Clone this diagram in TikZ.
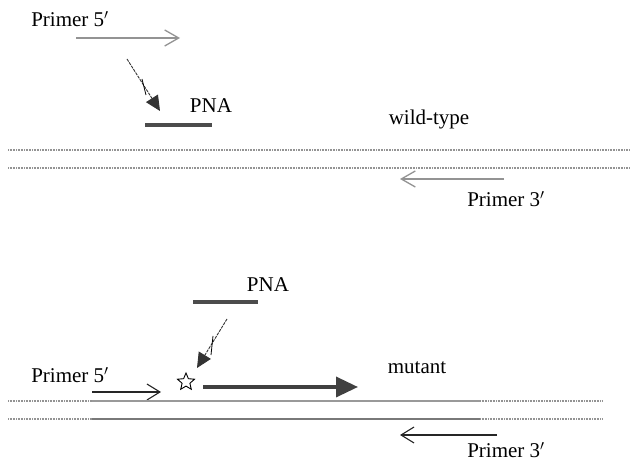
\documentclass[tikz,border=0pt]{standalone}
\usepackage{fontspec}
\setmainfont{Liberation Serif}
\usetikzlibrary{arrows.meta,shapes.geometric}
\tikzset{
  lbl/.style={font=\fontsize{21}{23}\selectfont, inner sep=0pt},
  primerarrow/.style={line width=2.3pt, gray!85, -{Straight Barb[length=14pt,width=16pt,line width=1.3pt]}},
  primerblack/.style={line width=1.3pt, black!85, -{Straight Barb[length=13pt,width=16pt,line width=1.1pt]}},
  pnabar/.style={line width=3.5pt, black!70},
  bindarrow/.style={line width=0.9pt, black!80, dash pattern=on 3pt off 1pt, -{Triangle[length=15pt,width=14pt]}},
  strandline/.style={line width=1.4pt, gray!85, dash pattern=on 1pt off 0.6pt},
}
\begin{document}
\begin{tikzpicture}[x=1pt,y=-1pt]
\useasboundingbox (0,0) rectangle (630,462);
%\draw[thin,dotted] (0,0) grid[step=50] (630,462);
% wild-type
\node[lbl] (p5top) at (70,19) {Primer 5$'$};
\coordinate (a1) at (76,38);
\coordinate (a2) at (180,38);
\draw[primerarrow] (a1) -- (a2);
\coordinate (pnaL) at (145,125);
\coordinate (pnaR) at (212,125);
\draw[pnabar] (pnaL) -- (pnaR);
\node[lbl] (pnatop) at (211,106) {PNA};
\coordinate (b1) at (127,59);
\coordinate (b2) at (160,111);
\draw[bindarrow] (b1) -- (b2);
\draw[line width=0.8pt] (142,79) -- (146,95);
\node[lbl] (wt) at (429,119) {wild-type};
\draw[strandline] (8,150) -- (630,150);
\draw[strandline] (8,168) -- (630,168);
\coordinate (c1) at (504,179);
\coordinate (c2) at (400,179);
\draw[primerarrow] (c1) -- (c2);
\node[lbl] (p3top) at (506,199) {Primer 3$'$};
% mutant
\node[lbl] (pnabot) at (268,285) {PNA};
\coordinate (qL) at (193,302);
\coordinate (qR) at (258,302);
\draw[pnabar] (qL) -- (qR);
\coordinate (d1) at (227,319);
\coordinate (d2) at (197,368);
\draw[bindarrow] (d1) -- (d2);
\draw[line width=0.8pt] (213,336) -- (211,355);
\node[star, star points=5, star point ratio=2.2, draw, line width=0.9pt,
      minimum size=18pt, inner sep=0pt] (mutsite) at (186,382) {};
\coordinate (e1) at (203,387);
\coordinate (e2) at (358,387);
\draw[line width=3.5pt, black!75, -{Triangle[length=22pt,width=20pt]}] (e1) -- (e2);
\node[lbl] (mut) at (417,368) {mutant};
\node[lbl] (p5bot) at (70,375) {Primer 5$'$};
\coordinate (f1) at (92,392);
\coordinate (f2) at (161,392);
\draw[primerblack] (f1) -- (f2);
\draw[strandline] (8,401) -- (92,401);
\draw[line width=2.5pt, gray!80] (92,401) -- (480,401);
\draw[strandline] (480,401) -- (603,401);
\draw[strandline] (8,419) -- (92,419);
\draw[line width=2.5pt, gray!95!black] (92,419) -- (480,419);
\draw[strandline] (480,419) -- (603,419);
\coordinate (g1) at (497,435);
\coordinate (g2) at (400,435);
\draw[primerblack] (g1) -- (g2);
\node[lbl] (p3bot) at (506,450) {Primer 3$'$};
\end{tikzpicture}
\end{document}
